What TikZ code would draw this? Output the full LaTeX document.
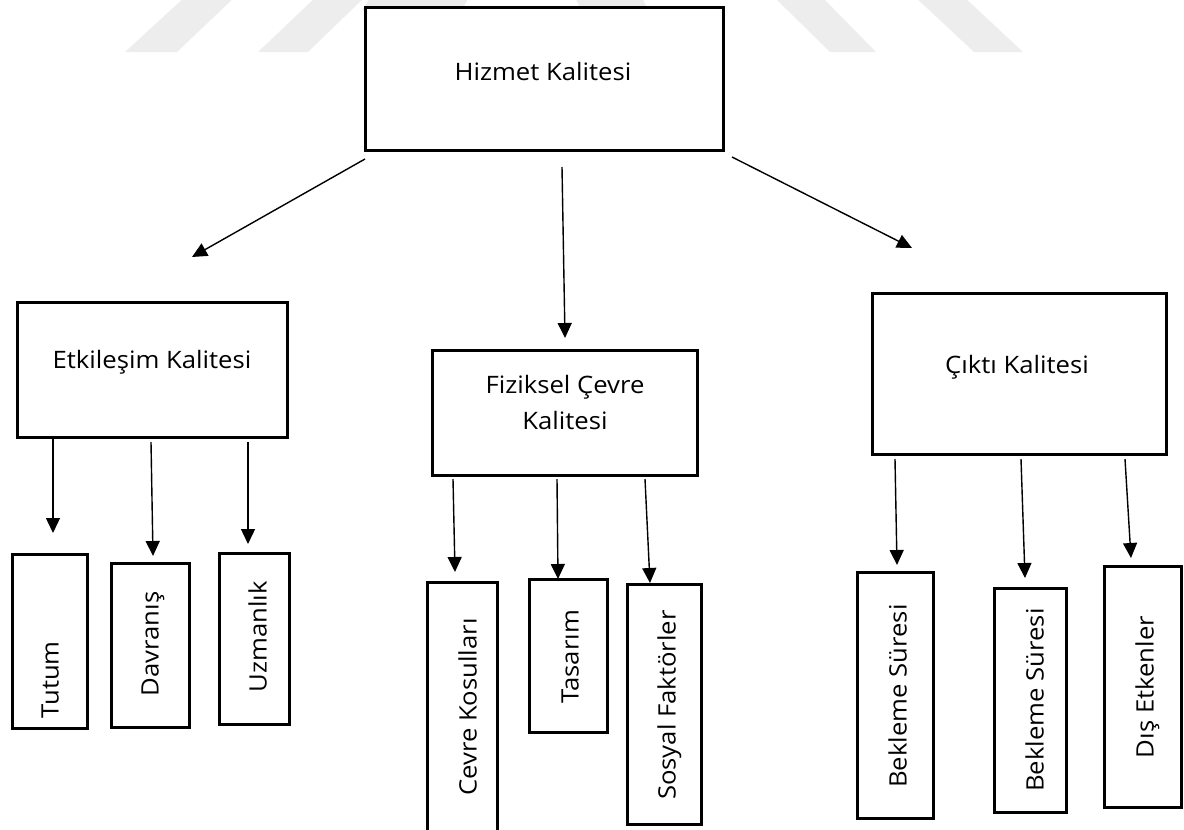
\documentclass[tikz,border=0pt]{standalone}
\usepackage{fontspec}
\usepackage{graphicx}
\newfontfamily\labfont{Open Sans}
\usetikzlibrary{arrows.meta}
% slightly widened lettering
\newcommand{\wtxt}[1]{\scalebox{1.07}[1]{#1}}
\definecolor{wmgray}{RGB}{237,237,237}

\begin{document}
\begin{tikzpicture}[x=1pt,y=-1pt,
  box/.style={draw, line width=3pt, fill=white, inner sep=0pt, outer sep=0pt},
  lab/.style={font=\labfont\fontsize{24}{36}\selectfont, inner sep=0pt, outer sep=0pt},
  onelab/.style={lab, text height=17.1pt, text depth=0pt},
  vlab/.style={onelab, rotate=90},
  arr/.style={-{Triangle[length=15pt,width=14pt]}, line width=1.4pt},
  wmstripe/.style={fill=wmgray, draw=none}]
\useasboundingbox (0,0) rectangle (1184,830);

% faint background stripes
\fill[wmstripe] (125,52) -- (177,52) -- (237,-5) -- (187,-5) -- cycle;
\fill[wmstripe] (258,52) -- (308,52) -- (367,-5) -- (318,-5) -- cycle;
\fill[wmstripe] (830,52) -- (876,52) -- (820,-5) -- (772,-5) -- cycle;
\fill[wmstripe] (974,52) -- (1023,52) -- (962,-5) -- (913,-5) -- cycle;
\fill[wmstripe] (372,-5) -- (470,-5) -- (462,10) -- (362,10) -- cycle;
\fill[wmstripe] (574,-5) -- (641,-5) -- (648,10) -- (581,10) -- cycle;

% top level
\node[box, minimum width=358pt, minimum height=143pt] (hiz) at (544,78.5) {};
\node[onelab] (hizt) at (543,72) {\wtxt{Hizmet Kalitesi}};

% second level
\node[box, minimum width=270pt, minimum height=135pt] (etk) at (152,369.5) {};
\node[onelab] (etkt) at (152,360) {\wtxt{Etkileşim Kalitesi}};
\node[box, minimum width=265pt, minimum height=125pt] (fiz) at (564.5,412.5) {};
\node[lab, align=center] (fizt) at (565,402) {\wtxt{Fiziksel Çevre}\\\wtxt{Kalitesi}};
\node[box, minimum width=294pt, minimum height=161pt] (cik) at (1019,373.5) {};
\node[onelab] (cikt) at (1017,365) {\wtxt{Çıktı Kalitesi}};

% third level
\node[box, minimum width=75pt, minimum height=174pt] (tut) at (49.5,641) {};
\node[vlab] (tutt) at (50,680) {\wtxt{Tutum}};
\node[box, minimum width=78pt, minimum height=164pt] (dav) at (150,645) {};
\node[vlab] (davt) at (150,644) {\wtxt{Davranış}};
\node[box, minimum width=70pt, minimum height=171pt] (uzm) at (254,638.5) {};
\node[vlab] (uzmt) at (258,637) {\wtxt{Uzmanlık}};

\node[box, minimum width=70pt, minimum height=263pt] (cev) at (462,713.5) {};
\node[vlab] (cevt) at (468,707) {\wtxt{Cevre Kosulları}};
\node[box, minimum width=78pt, minimum height=153pt] (tas) at (568,655.5) {};
\node[vlab] (tast) at (570,657) {\wtxt{Tasarım}};
\node[box, minimum width=74pt, minimum height=240pt] (sos) at (664,704) {};
\node[vlab] (sost) at (667,705) {\wtxt{Sosyal Faktörler}};

\node[box, minimum width=76pt, minimum height=246pt] (bk1) at (895,695) {};
\node[vlab] (bk1t) at (898,696) {\wtxt{Bekleme Süresi}};
\node[box, minimum width=72pt, minimum height=224pt] (bk2) at (1030,700) {};
\node[vlab] (bk2t) at (1035,700) {\wtxt{Bekleme Süresi}};
\node[box, minimum width=77pt, minimum height=241pt] (dis) at (1142.5,686.5) {};
\node[vlab] (dist) at (1145,687) {\wtxt{Dış Etkenler}};

% connector end points
\coordinate (hizA) at (365,159);  \coordinate (etkIn) at (192,257);
\coordinate (hizB) at (562,167);  \coordinate (fizIn) at (565,338);
\coordinate (hizC) at (732,157);  \coordinate (cikIn) at (912,248);
\coordinate (etkA) at (53,438);   \coordinate (tutIn) at (53,533);
\coordinate (etkB) at (151,442);  \coordinate (davIn) at (153,556);
\coordinate (etkC) at (248,442);  \coordinate (uzmIn) at (248,544);
\coordinate (fizA) at (453,479);  \coordinate (cevIn) at (455,572);
\coordinate (fizB) at (557,479);  \coordinate (tasIn) at (558,579);
\coordinate (fizC) at (645,479);  \coordinate (sosIn) at (650,583);
\coordinate (cikA) at (895,459);  \coordinate (bk1In) at (897,565);
\coordinate (cikB) at (1021,459); \coordinate (bk2In) at (1025,578);
\coordinate (cikC) at (1125,459); \coordinate (disIn) at (1131,558);

\draw[arr] (hizA) -- (etkIn);
\draw[arr] (hizB) -- (fizIn);
\draw[arr] (hizC) -- (cikIn);
\draw[arr] (etkA) -- (tutIn);
\draw[arr] (etkB) -- (davIn);
\draw[arr] (etkC) -- (uzmIn);
\draw[arr] (fizA) -- (cevIn);
\draw[arr] (fizB) -- (tasIn);
\draw[arr] (fizC) -- (sosIn);
\draw[arr] (cikA) -- (bk1In);
\draw[arr] (cikB) -- (bk2In);
\draw[arr] (cikC) -- (disIn);
\end{tikzpicture}
\end{document}
